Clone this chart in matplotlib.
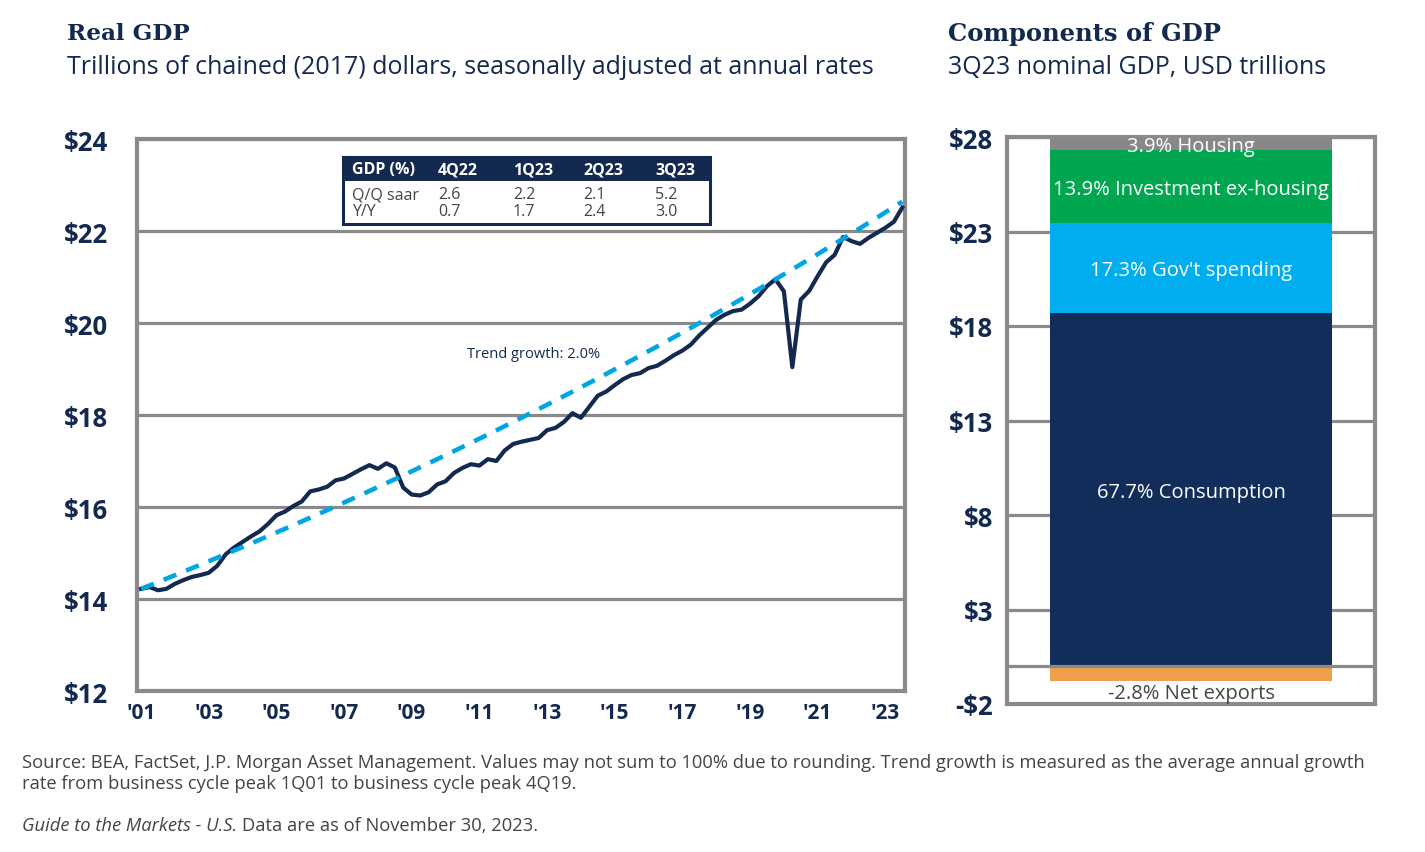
import matplotlib
matplotlib.use("Agg")
import matplotlib.pyplot as plt
from matplotlib.patches import Rectangle
import numpy as np

# ---- data ----
# real GDP, trillions of chained 2017 dollars, 2001Q1 .. 2023Q3
gdp = [14.22, 14.26, 14.19, 14.22,
       14.33, 14.41, 14.48, 14.52,
       14.57, 14.72, 14.97, 15.12,
       15.24, 15.36, 15.47, 15.63,
       15.82, 15.90, 16.02, 16.12,
       16.34, 16.38, 16.44, 16.58,
       16.62, 16.72, 16.82, 16.91,
       16.83, 16.95, 16.86, 16.42,
       16.27, 16.25, 16.32, 16.49,
       16.56, 16.74, 16.85, 16.93,
       16.90, 17.04, 17.00, 17.23,
       17.37, 17.42, 17.46, 17.50,
       17.67, 17.72, 17.85, 18.04,
       17.94, 18.18, 18.42, 18.51,
       18.65, 18.78, 18.87, 18.91,
       19.02, 19.07, 19.18, 19.30,
       19.40, 19.53, 19.73, 19.90,
       20.07, 20.18, 20.26, 20.29,
       20.42, 20.58, 20.80, 20.95,
       20.69, 19.04, 20.51, 20.70,
       21.02, 21.32, 21.48, 21.87,
       21.78, 21.72, 21.85, 21.96,
       22.07, 22.20, 22.51]
start_year = 2001
peak_q = 75   # 4Q19, business cycle peak

years = start_year + np.arange(len(gdp)) / 4
xtick_years = list(range(2001, 2024, 2))
xtick_labels = ["'%02d" % (y % 100) for y in xtick_years]
left_yticks = [12, 14, 16, 18, 20, 22, 24]

tbl_header = ["GDP (%)", "4Q22", "1Q23", "2Q23", "3Q23"]
tbl_rows = ["Q/Q saar", "Y/Y"]
tbl_qq = [2.6, 2.2, 2.1, 5.2]
tbl_yy = [0.7, 1.7, 2.4, 3.0]

# components of 3Q23 nominal GDP, USD trillions
comp_names = ["Consumption", "Gov't spending", "Investment ex-housing", "Housing"]
comp_vals = [18.69, 4.78, 3.84, 1.08]
netexp_name = "Net exports"
netexp_val = -0.77
right_yticks = [-2, 3, 8, 13, 18, 23, 28]

# ---- style ----
navy = "#13294f"
grid_c = "#8a8a8a"
text_gray = "#444444"
comp_colors = ["#122d5a", "#00aeef", "#00a650", "#888888"]
netexp_color = "#f0a04a"
trend_color = "#00a6e4"
body_font = ["Open Sans", "DejaVu Sans"]
plt.rcParams["font.family"] = body_font

W, H = 1425, 853
fig = plt.figure(figsize=(W / 100, H / 100), dpi=100)
fig.patch.set_facecolor("white")

def fx(x):
    return x / W

def fy(y):
    return 1 - y / H

# ---- left: real GDP ----
ax = fig.add_axes([fx(137), fy(692), fx(905) - fx(137), fy(140) - fy(692)])
ax.plot(years, gdp, color=navy, lw=3.0, zorder=3, solid_joinstyle="round")
g = np.array(gdp)
trend = g[0] * (g[peak_q] / g[0]) ** (np.arange(len(g)) / peak_q)
ax.plot(years, trend, color=trend_color, lw=3.3, ls=(0, (3.0, 2.3)), zorder=4)
ax.set_xlim(2000.88, 2023.58)
ax.set_ylim(12, 24)
ax.set_yticks(left_yticks)
ax.set_yticklabels(["$%d" % v for v in left_yticks])
ax.set_xticks(xtick_years)
ax.set_xticklabels(xtick_labels)
ax.yaxis.grid(True, color=grid_c, lw=2.3)
ax.set_axisbelow(True)
for s in ax.spines.values():
    s.set_color(grid_c)
    s.set_linewidth(3)
ax.tick_params(length=0)
ax.tick_params(axis="y", pad=21, labelsize=18.5, labelcolor=navy)
ax.tick_params(axis="x", pad=8, labelsize=15, labelcolor=navy)
for t in ax.get_yticklabels() + ax.get_xticklabels():
    t.set_fontweight("bold")

ax.text(2010.62, 19.25, "Trend growth: 2.0%", fontsize=10.5, color=navy)

# summary table
tx0, tx1, ty0, ty1, th = 343, 710, 158, 225, 182
fig.add_artist(Rectangle((fx(tx0), fy(th)), fx(tx1) - fx(tx0), fy(ty0) - fy(th),
                         transform=fig.transFigure, facecolor=navy, edgecolor=navy, lw=0, zorder=5))
fig.add_artist(Rectangle((fx(tx0), fy(ty1)), fx(tx1) - fx(tx0), fy(ty0) - fy(ty1),
                         transform=fig.transFigure, facecolor="none", edgecolor=navy, lw=2.2, zorder=6))
col_x = [352, 438, 513, 583, 655]
for cx, lab in zip(col_x, tbl_header):
    fig.text(fx(cx), fy(170.5), lab, color="white", fontsize=11.5, fontweight="bold",
             va="center", zorder=7)
for ry, name, vals in zip([195, 212], tbl_rows, [tbl_qq, tbl_yy]):
    fig.text(fx(col_x[0]), fy(ry), name, color=text_gray, fontsize=11.5, va="center", zorder=7)
    for cx, v in zip(col_x[1:], vals):
        fig.text(fx(cx), fy(ry), "%.1f" % v, color=text_gray, fontsize=11.5, va="center", zorder=7)

# ---- right: components of GDP ----
ax2 = fig.add_axes([fx(1007), fy(705), fx(1375) - fx(1007), fy(138) - fy(705)])
ax2.set_xlim(-0.5, 0.5)
ax2.set_ylim(-2, 28)
bw = 282 / 368
bottom = 0
total = sum(comp_vals) + netexp_val
for name, v, c in zip(comp_names, comp_vals, comp_colors):
    ax2.bar(0, v, bottom=bottom, width=bw, color=c, zorder=2)
    top = min(bottom + v, 28)
    ax2.text(0, (bottom + top) / 2, "%.1f%% %s" % (v / total * 100, name),
             ha="center", va="center_baseline", color="white", fontsize=14.5, zorder=4)
    bottom += v
ax2.bar(0, netexp_val, width=bw, color=netexp_color, zorder=2)
ax2.text(0, netexp_val - 0.12, "%.1f%% %s" % (netexp_val / total * 100, netexp_name),
         ha="center", va="top", color=text_gray, fontsize=14.5, zorder=4)
ax2.axhline(0, color=grid_c, lw=2.3, zorder=3)
ax2.set_yticks(right_yticks)
ax2.set_yticklabels([("$%d" % v) if v >= 0 else ("-$%d" % -v) for v in right_yticks])
ax2.set_xticks([])
ax2.yaxis.grid(True, color=grid_c, lw=2.3)
ax2.set_axisbelow(True)
for s in ax2.spines.values():
    s.set_color(grid_c)
    s.set_linewidth(3)
ax2.tick_params(length=0)
ax2.tick_params(axis="y", pad=10, labelsize=18.5, labelcolor=navy)
for t in ax2.get_yticklabels():
    t.set_fontweight("bold")

# ---- titles ----
fig.text(fx(67), fy(34), "Real GDP", fontsize=16.6, fontweight="bold", color=navy,
         family="DejaVu Serif", va="center")
fig.text(fx(67), fy(67), "Trillions of chained (2017) dollars, seasonally adjusted at annual rates",
         fontsize=18, color=navy, va="center")
fig.text(fx(948), fy(34), "Components of GDP", fontsize=17.5, fontweight="bold", color=navy,
         family="DejaVu Serif", va="center")
fig.text(fx(948), fy(67), "3Q23 nominal GDP, USD trillions", fontsize=18, color=navy, va="center")

# ---- footnotes ----
fs = 13.2
fig.text(fx(22), fy(763), "Source: BEA, FactSet, J.P. Morgan Asset Management. Values may not sum to 100% "
         "due to rounding. Trend growth is measured as the average annual growth",
         fontsize=fs, color=text_gray, va="center")
fig.text(fx(22), fy(784), "rate from business cycle peak 1Q01 to business cycle peak 4Q19.",
         fontsize=fs, color=text_gray, va="center")
t1 = fig.text(fx(22), fy(826), "Guide to the Markets - U.S.", fontsize=fs, color=text_gray,
              style="italic", va="center")
fig.canvas.draw()
bb = t1.get_window_extent()
fig.text(bb.x1 / W + fx(5), fy(826), "Data are as of November 30, 2023.", fontsize=fs,
         color=text_gray, va="center")

fig.savefig("out.png", dpi=100, facecolor="white")
